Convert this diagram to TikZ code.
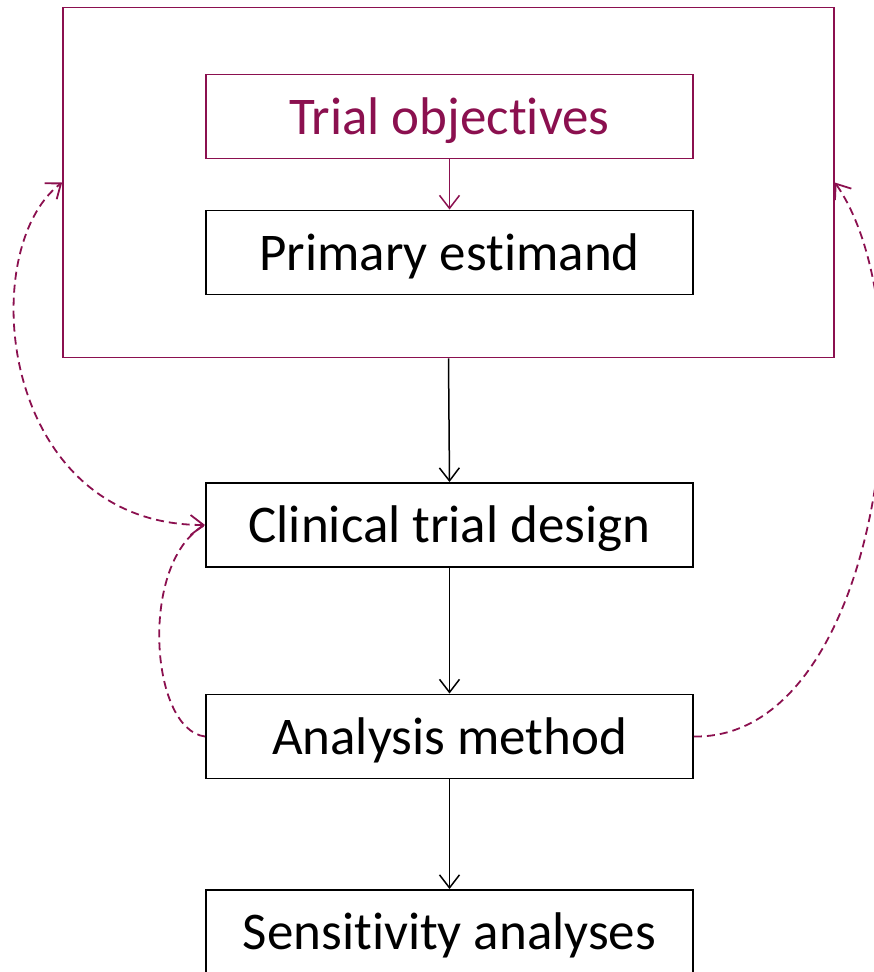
\documentclass[tikz,border=0pt]{standalone}
\usepackage{fontspec}
\setmainfont{Carlito}[Ligatures={NoCommon,NoRequired,NoContextual}]
\usetikzlibrary{arrows.meta}
\definecolor{plum}{RGB}{139,16,79}
\tikzset{vee/.tip={Straight Barb[length=13pt,width=20pt]}}
\begin{document}
\begin{tikzpicture}[x=1pt,y=-1pt,
  stagebox/.style={draw=black,line width=1.9pt,minimum width=487pt,minimum height=84pt,
    inner sep=0pt,font=\fontsize{53}{60}\selectfont,text=black,
    text height=45pt,text depth=10pt},
  headbox/.style={stagebox,draw=plum,text=plum,line width=1.7pt},
  framebox/.style={draw=plum,line width=1.7pt,minimum width=771pt,minimum height=350pt,inner sep=0pt},
  flow/.style={-vee,line width=1.5pt},
  link/.style={draw=plum,line width=1.8pt,dash pattern=on 8pt off 5pt}]
\useasboundingbox (0,0) rectangle (874,972);
\clip (0,0) rectangle (874,972);

% outer frame holding objectives and estimand
\node[framebox] (frame) at (448.5,182.5) {};
\node[headbox] (obj) at (449.5,116.5) {Trial objectives};
\node[stagebox] (est) at (449.5,252.5) {Primary estimand};

% main chain
\node[stagebox] (design) at (449.5,525) {Clinical trial design};
\node[stagebox] (method) at (449.5,736.5) {Analysis method};
\node[stagebox] (sens) at (449.5,932) {Sensitivity analyses};

\draw[flow,draw=plum] (obj.south) -- (est.north);
\draw[flow] (frame.south) -- (design.north);
\draw[flow] (design.south) -- (method.north);
\draw[flow] (method.south) -- (sens.north);

% feedback loops
\draw[link,vee-vee] (design.west) .. controls +(-206,0) and +(-88,67) .. (frame.west);
\draw[link] (method.west) .. controls +(-56,-7) and +(-66,35) .. (design.west);
\draw[link,-vee] (method.east) .. controls +(187,3) and +(96,137) .. (frame.east);
\end{tikzpicture}
\end{document}
